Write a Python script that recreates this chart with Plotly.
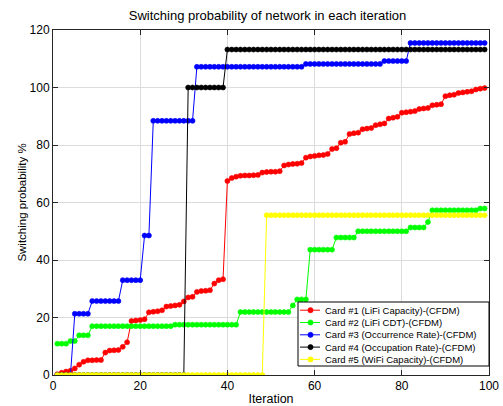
import plotly.graph_objects as go

# Iteration index shared by every card
iterations = list(range(1, 100))

series_names = [
    "Card #1 (LiFi Capacity)-(CFDM)",
    "Card #2 (LiFi CDT)-(CFDM)",
    "Card #3 (Occurrence Rate)-(CFDM)",
    "Card #4 (Occupation Rate)-(CFDM)",
    "Card #5 (WiFi Capacity)-(CFDM)",
]
series_colors = ["#ff0000", "#00ff00", "#0000ff", "#000000", "#ffff00"]

card1 = [
    0.3, 0.8, 1.2, 1.5, 2.3, 3.6, 4.6, 5.1, 5.1, 5.2,
    5.2, 7.8, 8.5, 8.6, 8.7, 9.8, 11.4, 18.8, 19.0, 19.1,
    19.4, 21.8, 22.0, 22.2, 22.5, 23.8, 24.0, 24.2, 24.4, 25.6,
    27.0, 27.2, 28.9, 29.2, 29.3, 29.5, 31.8, 33.0, 33.3, 67.5,
    68.5, 69.0, 69.3, 69.4, 69.4, 69.5, 69.6, 70.4, 70.6, 70.7,
    70.7, 70.9, 72.9, 73.2, 73.4, 73.5, 73.7, 75.6, 76.0, 76.2,
    76.4, 76.5, 76.9, 78.6, 78.9, 80.8, 81.1, 83.8, 84.1, 84.3,
    85.5, 85.7, 85.9, 86.9, 87.2, 87.5, 89.2, 89.5, 89.8, 91.2,
    91.4, 91.6, 91.8, 92.5, 92.7, 92.9, 93.8, 94.0, 94.2, 97.0,
    97.3, 97.5, 98.1, 98.3, 98.5, 98.7, 99.3, 99.6, 99.8,
]

card2 = [
    10.9, 10.9, 10.9, 11.8, 11.8, 13.8, 13.8, 13.8, 17.0, 17.0,
    17.0, 17.0, 17.0, 17.0, 17.0, 17.0, 17.0, 17.0, 17.0, 17.0,
    17.0, 17.0, 17.0, 17.0, 17.0, 17.0, 17.0, 17.5, 17.5, 17.5,
    17.5, 17.5, 17.5, 17.5, 17.5, 17.5, 17.5, 17.5, 17.5, 17.5,
    17.5, 17.5, 21.9, 21.9, 21.9, 21.9, 21.9, 21.9, 21.9, 21.9,
    21.9, 21.9, 21.9, 21.9, 24.2, 26.3, 26.3, 26.3, 43.6, 43.6,
    43.6, 43.6, 43.6, 43.6, 47.8, 47.8, 47.8, 47.8, 47.8, 50.0,
    50.0, 50.0, 50.0, 50.0, 50.0, 50.0, 50.0, 50.0, 50.0, 50.0,
    50.0, 51.3, 51.3, 51.3, 51.3, 53.2, 57.3, 57.3, 57.3, 57.3,
    57.3, 57.3, 57.3, 57.3, 57.3, 57.3, 57.3, 57.9, 57.9,
]

card3 = [
    0.0, 0.0, 0.0, 0.0, 21.3, 21.3, 21.3, 21.3, 25.7, 25.7,
    25.7, 25.7, 25.7, 25.7, 25.7, 33.0, 33.0, 33.0, 33.0, 33.0,
    48.5, 48.5, 88.4, 88.4, 88.4, 88.4, 88.4, 88.4, 88.4, 88.4,
    88.4, 88.4, 107.2, 107.2, 107.2, 107.2, 107.2, 107.2, 107.2, 107.2,
    107.2, 107.2, 107.2, 107.2, 107.2, 107.2, 107.2, 107.2, 107.2, 107.2,
    107.2, 107.2, 107.2, 107.2, 107.2, 107.2, 107.2, 108.2, 108.2, 108.2,
    108.2, 108.2, 108.2, 108.2, 108.2, 108.2, 108.2, 108.2, 108.2, 108.2,
    108.2, 108.2, 108.2, 108.2, 108.2, 109.2, 109.2, 109.2, 109.2, 109.2,
    109.2, 115.5, 115.5, 115.5, 115.5, 115.5, 115.5, 115.5, 115.5, 115.5,
    115.5, 115.5, 115.5, 115.5, 115.5, 115.5, 115.5, 115.5, 115.5,
]

card4 = [
    0.0, 0.0, 0.0, 0.0, 0.0, 0.0, 0.0, 0.0, 0.0, 0.0,
    0.0, 0.0, 0.0, 0.0, 0.0, 0.0, 0.0, 0.0, 0.0, 0.0,
    0.0, 0.0, 0.0, 0.0, 0.0, 0.0, 0.0, 0.0, 0.0, 0.0,
    100.0, 100.0, 100.0, 100.0, 100.0, 100.0, 100.0, 100.0, 100.0, 113.2,
    113.2, 113.2, 113.2, 113.2, 113.2, 113.2, 113.2, 113.2, 113.2, 113.2,
    113.2, 113.2, 113.2, 113.2, 113.2, 113.2, 113.2, 113.2, 113.2, 113.2,
    113.2, 113.2, 113.2, 113.2, 113.2, 113.2, 113.2, 113.2, 113.2, 113.2,
    113.2, 113.2, 113.2, 113.2, 113.2, 113.2, 113.2, 113.2, 113.2, 113.2,
    113.2, 113.2, 113.2, 113.2, 113.2, 113.2, 113.2, 113.2, 113.2, 113.2,
    113.2, 113.2, 113.2, 113.2, 113.2, 113.2, 113.2, 113.2, 113.2,
]

card5 = [
    0.0, 0.0, 0.0, 0.0, 0.0, 0.0, 0.0, 0.0, 0.0, 0.0,
    0.0, 0.0, 0.0, 0.0, 0.0, 0.0, 0.0, 0.0, 0.0, 0.0,
    0.0, 0.0, 0.0, 0.0, 0.0, 0.0, 0.0, 0.0, 0.0, 0.0,
    0.0, 0.0, 0.0, 0.0, 0.0, 0.0, 0.0, 0.0, 0.0, 0.0,
    0.0, 0.0, 0.0, 0.0, 0.0, 0.0, 0.0, 0.0, 55.6, 55.6,
    55.6, 55.6, 55.6, 55.6, 55.6, 55.6, 55.6, 55.6, 55.6, 55.6,
    55.6, 55.6, 55.6, 55.6, 55.6, 55.6, 55.6, 55.6, 55.6, 55.6,
    55.6, 55.6, 55.6, 55.6, 55.6, 55.6, 55.6, 55.6, 55.6, 55.6,
    55.6, 55.6, 55.6, 55.6, 55.6, 55.6, 55.6, 55.6, 55.6, 55.6,
    55.6, 55.6, 55.6, 55.6, 55.6, 55.6, 55.6, 55.6, 55.6,
]

series_values = [card1, card2, card3, card4, card5]

FONT = "Liberation Sans, Arial, Helvetica, sans-serif"
W, H = 503, 406
ML, MR, MT, MB = 53, 14, 30, 31
PW, PH = W - ML - MR, H - MT - MB

fig = go.Figure()
for name, color, vals in zip(series_names, series_colors, series_values):
    fig.add_trace(go.Scatter(
        x=iterations, y=vals, mode="lines+markers", name=name,
        line=dict(color=color, width=1),
        marker=dict(color=color, size=5, line=dict(color=color, width=0.6)),
        showlegend=False,
    ))


def px_x(p):
    return (p - ML) / PW


def px_y(p):
    return (MT + PH - p) / PH


# Compact boxed legend in the lower-right corner of the axes
shapes = [dict(type="rect", xref="paper", yref="paper",
               x0=px_x(298), x1=px_x(489), y0=px_y(366), y1=px_y(302),
               line=dict(color="#000000", width=1), fillcolor="#ffffff")]
annotations = []
row0, row_step = 310.2, 12.3
for i, (name, color) in enumerate(zip(series_names, series_colors)):
    cy = px_y(row0 + i * row_step)
    shapes.append(dict(type="line", xref="paper", yref="paper",
                       x0=px_x(300), x1=px_x(320), y0=cy, y1=cy,
                       line=dict(color=color, width=1)))
    shapes.append(dict(type="circle", xref="paper", yref="paper",
                       xsizemode="pixel", ysizemode="pixel",
                       xanchor=px_x(310.5), yanchor=cy,
                       x0=-2.6, x1=2.6, y0=-2.6, y1=2.6,
                       line=dict(color=color, width=0.6), fillcolor=color))
    annotations.append(dict(xref="paper", yref="paper", x=px_x(322.5), y=cy,
                            xanchor="left", yanchor="middle", showarrow=False,
                            text=name, font=dict(family=FONT, size=9.5, color="#000000")))

axis_common = dict(
    ticks="inside", ticklen=5, tickcolor="#262626", tickwidth=1,
    showline=True, linecolor="#262626", linewidth=1, mirror="ticks",
    showgrid=True, gridcolor="#dcdcdc", gridwidth=1, zeroline=False,
    automargin=False,
    tickfont=dict(family=FONT, size=12, color="#000000"),
)

fig.update_layout(
    width=W, height=H,
    margin=dict(l=ML, r=MR, t=MT, b=MB, pad=0),
    paper_bgcolor="#ffffff", plot_bgcolor="#ffffff",
    font=dict(family=FONT, color="#000000"),
    title=dict(text="Switching probability of network in each iteration",
               x=px_x(267.5), xref="paper", xanchor="center",
               y=1 - 15 / H, yref="container", yanchor="middle",
               font=dict(family=FONT, size=13, color="#000000")),
    xaxis=dict(range=[0, 100], tick0=0, dtick=20,
               title=dict(text="Iteration", font=dict(family=FONT, size=12.5), standoff=3),
               **axis_common),
    yaxis=dict(range=[0, 120], tick0=0, dtick=20,
               title=dict(text="Switching probability %", font=dict(family=FONT, size=11.5), standoff=0),
               **axis_common),
    shapes=shapes,
    annotations=annotations,
    showlegend=False,
)

fig.write_html("out.html")
